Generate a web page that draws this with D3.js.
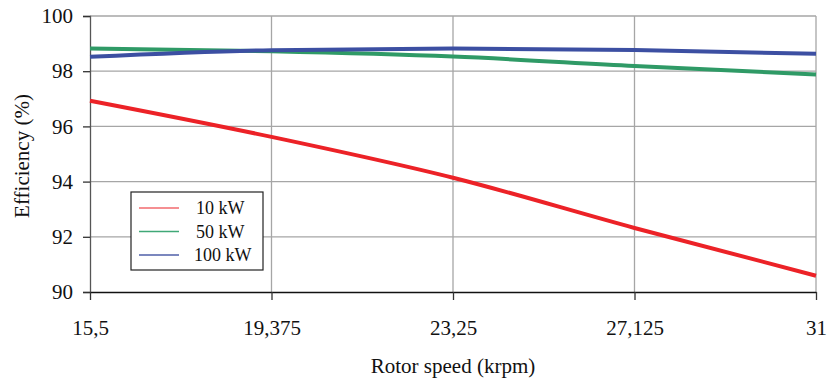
<!DOCTYPE html>
<html>
<head>
<meta charset="utf-8">
<script src="https://cdn.jsdelivr.net/npm/d3@7"></script>
<style>
  body { margin: 0; background: #fff; }
  svg text { font-family: "Liberation Serif", "Times New Roman", "DejaVu Serif", serif; }
</style>
</head>
<body>
<div id="chart"></div>
<script>
// rotor speed (krpm)
const speeds = [15.5, 19.375, 23.25, 27.125, 31];
const xTicks = [15.5, 19.375, 23.25, 27.125, 31];
const yTicks = [90, 92, 94, 96, 98, 100];

// efficiency (%)
const eff10 = [96.93, 95.62, 94.14, 92.32, 90.59];
const eff50 = [98.82, 98.72, 98.53, 98.19, 97.88];
const eff100 = [98.52, 98.76, 98.82, 98.77, 98.63];

const seriesNames = ['10 kW', '50 kW', '100 kW'];
const seriesColors = ['#ec2227', '#2f9a66', '#3c4fa2'];
const legendColors = ['#f26a6e', '#40a877', '#4f5fa8'];

const FONT = '"Liberation Serif", "Times New Roman", "DejaVu Serif", serif';

const width = 827, height = 380;
const margin = { top: 16, right: 11, bottom: 88, left: 90 };

const svg = d3.select('#chart').append('svg')
  .attr('width', width).attr('height', height)
  .attr('font-family', FONT);

const x = d3.scaleLinear().domain([15.5, 31]).range([margin.left, width - margin.right]);
const y = d3.scaleLinear().domain([90, 100]).range([height - margin.bottom, margin.top]);

const fmt = d => String(d).replace('.', ',');

// grid
const grid = svg.append('g');
grid.selectAll('.gy').data(yTicks.slice(1)).join('line')
  .attr('x1', x.range()[0]).attr('x2', x.range()[1])
  .attr('y1', d => y(d)).attr('y2', d => y(d))
  .attr('stroke', '#a6a6a6').attr('stroke-width', 1.3);
grid.selectAll('.gx').data(xTicks.slice(1)).join('line')
  .attr('x1', d => x(d)).attr('x2', d => x(d))
  .attr('y1', y.range()[1]).attr('y2', y.range()[0])
  .attr('stroke', '#a6a6a6').attr('stroke-width', 1.3);

// axes
const yAxis = svg.append('g')
  .attr('transform', `translate(${margin.left},0)`)
  .call(d3.axisLeft(y).tickValues(yTicks).tickSize(7).tickPadding(10).tickFormat(d3.format('d')));
yAxis.attr('font-family', FONT);
yAxis.select('.domain').attr('stroke', '#555').attr('stroke-width', 1.3);
yAxis.selectAll('.tick line').attr('stroke', '#333').attr('stroke-width', 1.3);
yAxis.selectAll('.tick text').attr('font-size', 21).attr('fill', '#111')
  .attr('font-family', FONT);

const xAxis = svg.append('g')
  .attr('transform', `translate(0,${y(90)})`)
  .call(d3.axisBottom(x).tickValues(xTicks).tickSize(8).tickPadding(20).tickSizeOuter(0).tickFormat(fmt));
xAxis.attr('font-family', FONT);
xAxis.select('.domain').attr('stroke', '#111').attr('stroke-width', 1.5);
xAxis.selectAll('.tick line').attr('stroke', '#333').attr('stroke-width', 1.3);
xAxis.selectAll('.tick text').attr('font-size', 21).attr('fill', '#111')
  .attr('font-family', FONT);

// axis titles
svg.append('text')
  .attr('x', x(23.25)).attr('y', 373)
  .attr('text-anchor', 'middle').attr('font-size', 21).attr('fill', '#111')
  .text('Rotor speed (krpm)');
svg.append('text')
  .attr('transform', `translate(29,${(y(90) + y(100)) / 2 + 2}) rotate(-90)`)
  .attr('text-anchor', 'middle').attr('font-size', 21).attr('fill', '#111')
  .text('Efficiency (%)');

// lines
const line = d3.line()
  .x((d, i) => x(speeds[i]))
  .y(d => y(d))
  .curve(d3.curveMonotoneX);

const plot = svg.append('g');
[eff10, eff50, eff100].forEach((vals, i) => {
  plot.append('path').datum(vals)
    .attr('d', line)
    .attr('fill', 'none')
    .attr('stroke', seriesColors[i])
    .attr('stroke-width', 4)
    .attr('stroke-linejoin', 'round');
});

// legend
const legend = svg.append('g').attr('transform', 'translate(131,192)');
legend.append('rect')
  .attr('width', 132).attr('height', 78)
  .attr('fill', '#fff').attr('stroke', '#222').attr('stroke-width', 1.2);
seriesNames.forEach((name, i) => {
  const yy = 16 + i * 23.5;
  legend.append('line')
    .attr('x1', 8).attr('x2', 48).attr('y1', yy).attr('y2', yy)
    .attr('stroke', legendColors[i]).attr('stroke-width', 1.6);
  legend.append('text')
    .attr('x', i === 2 ? 63 : 65).attr('y', yy + 6)
    .attr('font-size', 18).attr('fill', '#111')
    .text(name);
});
</script>
</body>
</html>
